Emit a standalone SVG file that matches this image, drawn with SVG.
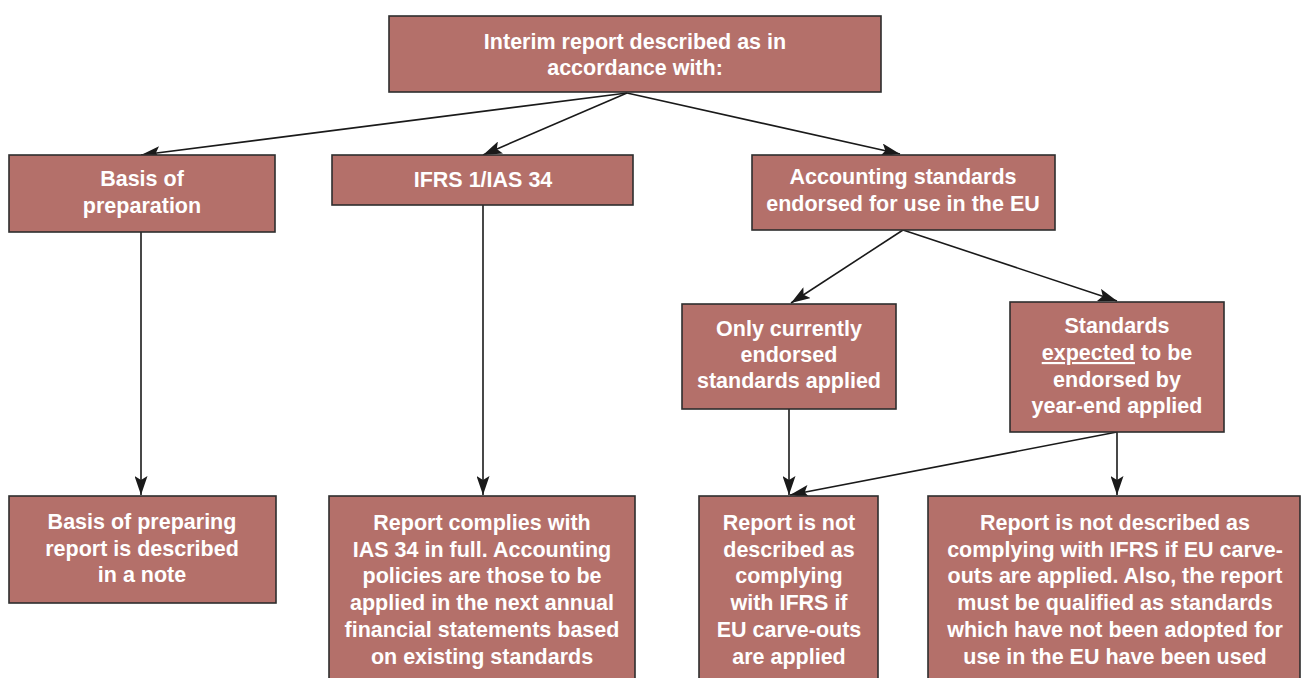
<svg xmlns="http://www.w3.org/2000/svg" width="1305" height="678" viewBox="0 0 1305 678">
<defs>
<marker id="arr" viewBox="0 0 19 13" refX="19" refY="6.5" markerWidth="19" markerHeight="13" markerUnits="userSpaceOnUse" orient="auto">
<path d="M0,0 L19,6.5 L0,13 L4,6.5 z" fill="#1a1a1a"/>
</marker>
<style>
.box{fill:#b4706a;stroke:#2e2e2e;stroke-width:1.6}
.t{font-family:"Liberation Sans",Arial,sans-serif;font-weight:bold;font-size:21.5px;fill:#ffffff;text-anchor:middle}
.c{fill:none;stroke:#1a1a1a;stroke-width:1.6;marker-end:url(#arr)}
</style>
</defs>
<rect width="1305" height="678" fill="#ffffff"/>
<g id="connectors">
<line class="c" x1="627" y1="93" x2="141" y2="155"/>
<line class="c" x1="627" y1="93" x2="483" y2="155"/>
<line class="c" x1="627" y1="93" x2="900" y2="154"/>
<line class="c" x1="141" y1="232" x2="141" y2="495"/>
<line class="c" x1="483" y1="205" x2="483" y2="495"/>
<line class="c" x1="903" y1="230" x2="791" y2="303"/>
<line class="c" x1="903" y1="230" x2="1117" y2="301"/>
<line class="c" x1="789" y1="409" x2="789" y2="495"/>
<line class="c" x1="1117" y1="432" x2="790" y2="495"/>
<line class="c" x1="1117" y1="432" x2="1117" y2="495"/>
</g>
<g id="n_top">
<rect class="box" x="389" y="16" width="492" height="76"/>
<text class="t" x="635" y="49">Interim report described as in</text>
<text class="t" x="635" y="75">accordance with:</text>
</g>
<g id="n_basis">
<rect class="box" x="9" y="155" width="266" height="77"/>
<text class="t" x="142" y="186">Basis of</text>
<text class="t" x="142" y="213">preparation</text>
</g>
<g id="n_ifrs">
<rect class="box" x="332" y="155" width="301" height="50"/>
<text class="t" x="483" y="187">IFRS 1/IAS 34</text>
</g>
<g id="n_acc">
<rect class="box" x="752" y="155" width="303" height="75"/>
<text class="t" x="903" y="184">Accounting standards</text>
<text class="t" x="903" y="211">endorsed for use in the EU</text>
</g>
<g id="n_only">
<rect class="box" x="682" y="304" width="214" height="105"/>
<text class="t" x="789" y="336">Only currently</text>
<text class="t" x="789" y="362">endorsed</text>
<text class="t" x="789" y="388">standards applied</text>
</g>
<g id="n_expected">
<rect class="box" x="1010" y="302" width="214" height="130"/>
<text class="t" x="1117" y="333">Standards</text>
<text class="t" x="1117" y="360"><tspan text-decoration="underline">expected</tspan> to be</text>
<text class="t" x="1117" y="387">endorsed by</text>
<text class="t" x="1117" y="413">year-end applied</text>
</g>
<g id="n_basisnote">
<rect class="box" x="9" y="496" width="267" height="107"/>
<text class="t" x="142" y="529">Basis of preparing</text>
<text class="t" x="142" y="556">report is described</text>
<text class="t" x="142" y="582">in a note</text>
</g>
<g id="n_complies">
<rect class="box" x="329" y="496" width="306" height="200"/>
<text class="t" x="482" y="530">Report complies with</text>
<text class="t" x="482" y="557">IAS 34 in full. Accounting</text>
<text class="t" x="482" y="583">policies are those to be</text>
<text class="t" x="482" y="610">applied in the next annual</text>
<text class="t" x="482" y="637">financial statements based</text>
<text class="t" x="482" y="664">on existing standards</text>
</g>
<g id="n_notifrs">
<rect class="box" x="699" y="496" width="179" height="200"/>
<text class="t" x="789" y="530">Report is not</text>
<text class="t" x="789" y="557">described as</text>
<text class="t" x="789" y="583">complying</text>
<text class="t" x="789" y="610">with IFRS if</text>
<text class="t" x="789" y="637">EU carve-outs</text>
<text class="t" x="789" y="664">are applied</text>
</g>
<g id="n_qualified">
<rect class="box" x="928" y="496" width="372" height="200"/>
<text class="t" x="1115" y="530">Report is not described as</text>
<text class="t" x="1115" y="557">complying with IFRS if EU carve-</text>
<text class="t" x="1115" y="583">outs are applied. Also, the report</text>
<text class="t" x="1115" y="610">must be qualified as standards</text>
<text class="t" x="1115" y="637">which have not been adopted for</text>
<text class="t" x="1115" y="664">use in the EU have been used</text>
</g>
</svg>
